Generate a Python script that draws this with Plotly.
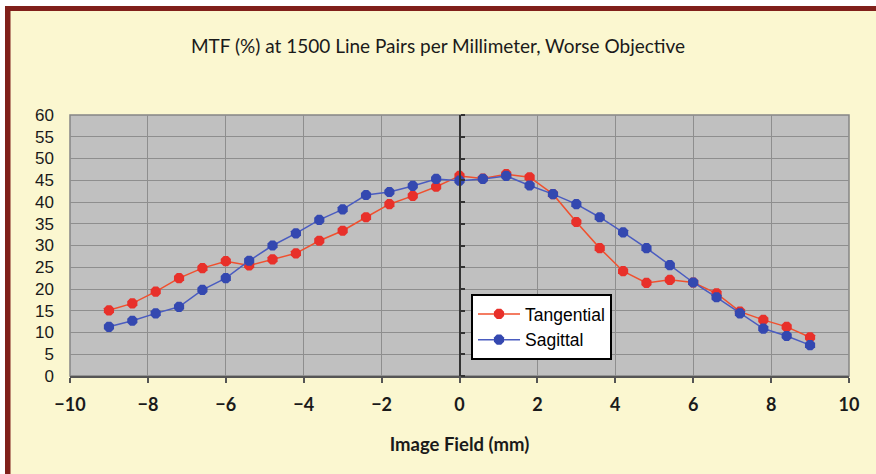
import plotly.graph_objects as go

# ---- data ----
field_mm = [round(-9 + 0.6 * k, 1) for k in range(31)]
tangential = [15.1, 16.7, 19.4, 22.5, 24.8, 26.4, 25.4, 26.8, 28.2, 31.1, 33.4, 36.5, 39.5, 41.4, 43.5,
              46.0,
              45.4, 46.4, 45.7, 41.8, 35.4, 29.4, 24.1, 21.4, 22.1, 21.5, 19.0, 14.8, 12.9, 11.3, 8.9]
sagittal = [11.3, 12.7, 14.4, 15.9, 19.8, 22.5, 26.5, 30.0, 32.8, 35.9, 38.3, 41.6, 42.3, 43.7, 45.3,
            44.9,
            45.3, 46.0, 43.8, 41.8, 39.5, 36.5, 33.0, 29.4, 25.5, 21.5, 18.1, 14.4, 10.9, 9.2, 7.1]
x_ticks = [-10, -8, -6, -4, -2, 0, 2, 4, 6, 8, 10]
y_ticks = [0, 5, 10, 15, 20, 25, 30, 35, 40, 45, 50, 55, 60]

title_text = "MTF (%) at 1500 Line Pairs per Millimeter, Worse Objective"
x_title = "Image Field (mm)"

# ---- layout geometry (pixels) ----
W, H = 876, 474
L, R, T, B = 70, 27, 115, 98
pw, ph = W - L - R, H - T - B

def px_x(p):
    return (p - L) / pw

def px_y(p):
    return (H - B - p) / ph

BG = "#FBF7D0"
PLOT_BG = "#C0C0C0"
GRID = "#8E8E8E"
RED_BORDER = "#80201A"

fig = go.Figure()
fig.add_trace(go.Scatter(
    x=field_mm, y=tangential, name="Tangential", mode="lines+markers",
    line=dict(color="#F0502E", width=1.5),
    marker=dict(color="#E8302A", size=11, symbol="octagon"),
))
fig.add_trace(go.Scatter(
    x=field_mm, y=sagittal, name="Sagittal", mode="lines+markers",
    line=dict(color="#4A5CC0", width=1.5),
    marker=dict(color="#3448B0", size=11, symbol="octagon"),
))
# invisible trace to carry the axis at x=0
fig.add_trace(go.Scatter(x=field_mm, y=sagittal, yaxis="y2", mode="lines",
                         line=dict(width=0), opacity=0, showlegend=False, hoverinfo="skip"))

shapes = [
    dict(type="rect", xref="paper", yref="paper", x0=px_x(0), x1=px_x(W), y0=px_y(0), y1=px_y(6),
         fillcolor="white", line=dict(width=0), layer="above"),
    dict(type="rect", xref="paper", yref="paper", x0=px_x(0), x1=px_x(5), y0=px_y(0), y1=px_y(H),
         fillcolor="white", line=dict(width=0), layer="above"),
    dict(type="rect", xref="paper", yref="paper", x0=px_x(5), x1=px_x(W), y0=px_y(6), y1=px_y(11),
         fillcolor=RED_BORDER, line=dict(width=0), layer="above"),
    dict(type="rect", xref="paper", yref="paper", x0=px_x(5), x1=px_x(10.5), y0=px_y(6), y1=px_y(H),
         fillcolor=RED_BORDER, line=dict(width=0), layer="above"),
    dict(type="rect", xref="paper", yref="paper", x0=0, x1=1, y0=0, y1=1,
         line=dict(color="#858585", width=1.5), layer="below"),
]

fig.update_layout(
    width=W, height=H,
    margin=dict(l=L, r=R, t=T, b=B),
    paper_bgcolor=BG, plot_bgcolor=PLOT_BG,
    title=dict(text=title_text, x=438 / W, xref="container", xanchor="center",
               y=1 - 46 / H, yref="container", yanchor="middle",
               font=dict(family="Lato", size=19, color="#1a1a1a")),
    xaxis=dict(range=[-10, 10], tickvals=x_ticks, ticks="outside", ticklen=5, tickwidth=1.5,
               tickcolor="#555555", showline=True, linecolor="#555555", linewidth=1.5,
               showgrid=True, gridcolor=GRID, gridwidth=1, zeroline=False,
               ticklabelstandoff=7,
               tickfont=dict(family="Lato", size=18, color="#1a1a1a", weight="bold"),
               title=dict(text=x_title, standoff=24,
                          font=dict(family="Lato", size=18.5, color="#1a1a1a", weight="bold"))),
    yaxis=dict(range=[0, 60], tickvals=y_ticks, ticks="", showline=False,
               showgrid=True, gridcolor=GRID, gridwidth=1, zeroline=False,
               ticklabelstandoff=15,
               tickfont=dict(family="Liberation Sans", size=17, color="#1a1a1a")),
    yaxis2=dict(range=[0, 60], tickvals=y_ticks, overlaying="y", anchor="free", position=0.5,
                side="right", ticks="outside", ticklen=4, tickwidth=1.5, tickcolor="#333333",
                showticklabels=False, showline=True, linecolor="#333333", linewidth=2,
                showgrid=False, zeroline=False),
    legend=dict(x=px_x(471), y=px_y(294), xanchor="left", yanchor="top",
                bgcolor="white", bordercolor="black", borderwidth=2,
                itemwidth=42, tracegroupgap=0,
                font=dict(family="Liberation Sans", size=17.5, color="black")),
    showlegend=True,
    shapes=shapes,
)

fig.write_html("out.html", config={"displayModeBar": False},
               post_script="document.body.style.margin='0';document.body.style.overflow='hidden';")
